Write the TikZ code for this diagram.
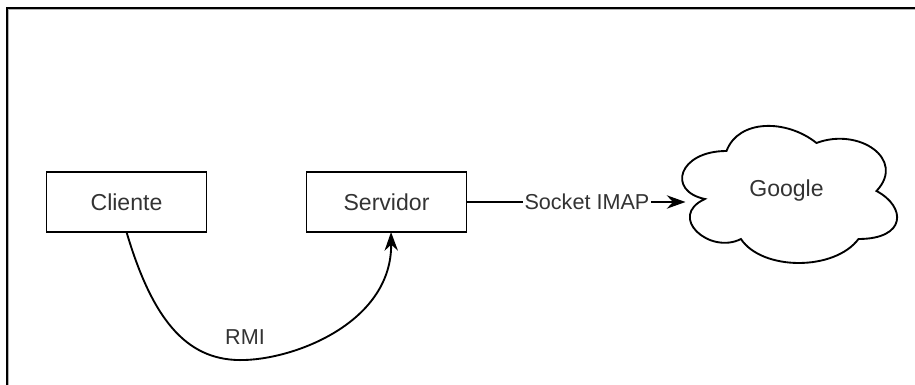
\documentclass[tikz,border=0pt]{standalone}
\usepackage{fontspec}
\setmainfont{Liberation Sans}
\usepackage{tikz}
\newcommand*{\vertexfont}{\fontsize{17.3}{20}\selectfont}
\newcommand*{\edgefont}{\fontsize{16.2}{19}\selectfont}
\usetikzlibrary{arrows.meta, positioning}
\tikzstyle{block} = [minimum width=120pt, minimum height=45pt, rectangle, inner sep=2pt, outer sep=0pt]
\tikzstyle{process} = [draw, block, line width=1.4pt, font=\vertexfont, text=black!80]
\tikzstyle{service} = [block, minimum width=180pt, minimum height=120pt, font=\vertexfont, text=black!80]
\tikzstyle{tag} = [font=\edgefont, text=black!80, inner sep=1pt]
\tikzstyle{link} = [-{Stealth[length=14pt, width=10pt]}, line width=1.4pt]
\begin{document}
\begin{tikzpicture}[x=0.75pt, y=-0.75pt, node distance=75pt]
    \useasboundingbox (0,0) rectangle (915,385);

    % Frame.
    \draw [line width=1.5pt] (7,385) -- (7,7.7) -- (915,7.7);
    \draw [gray!60, line width=0.75pt] (8.5,385) -- (8.5,9.5) -- (915,9.5);

    \node (cliente) [process] at (126.5,202) {Cliente};
    \node (servidor) [process, right=of cliente] {Servidor};
    \node (google) [service, right=150pt of servidor, yshift=8.25pt] {Google};
    \path (google.west |- servidor.east) ++(19,0) coordinate (google in);
    \coordinate (rmi low) at (245,360);

    % Cloud.
    \begin{scope}[shift={(google.north west)}, x=180pt, y=-120pt]
        \draw [line width=1.4pt] (0.25,0.25)
            .. controls (0.05,0.25) and (0,0.5) .. (0.16,0.55)
            .. controls (0,0.66) and (0.18,0.9) .. (0.31,0.8)
            .. controls (0.4,1) and (0.7,1) .. (0.8,0.8)
            .. controls (1,0.8) and (1,0.6) .. (0.875,0.5)
            .. controls (1,0.3) and (0.8,0.1) .. (0.625,0.2)
            .. controls (0.5,0.05) and (0.3,0.05) .. (0.25,0.25) -- cycle;
    \end{scope}

    % Arrows.
    \draw [link] (servidor) -- node [tag, fill=white, pos=0.55] {Socket IMAP} (google in);
    \draw [link] (cliente.south) .. controls (154,325) and (190,362) .. (rmi low)
        node [tag, above=10pt] {RMI}
        .. controls (300,358) and (392,320) .. ([xshift=3.4pt]servidor.south);
\end{tikzpicture}
\end{document}
